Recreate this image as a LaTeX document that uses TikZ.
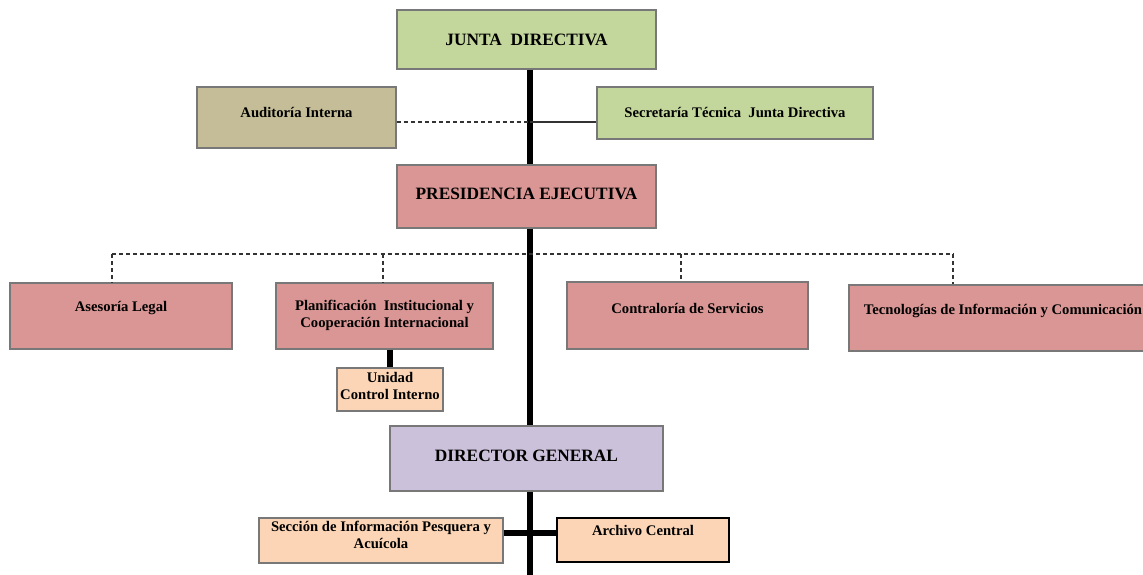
\documentclass[tikz,border=0pt]{standalone}
\usepackage{fontspec}
\setmainfont{Liberation Serif}
\usetikzlibrary{shadows}
\definecolor{cgreen}{RGB}{195,214,155}
\definecolor{ctan}{RGB}{196,189,151}
\definecolor{cpink}{RGB}{217,150,148}
\definecolor{cpeach}{RGB}{251,213,181}
\definecolor{clav}{RGB}{204,193,218}
\definecolor{cborder}{RGB}{120,120,120}
\begin{document}
\begin{tikzpicture}[x=0.75pt,y=-0.75pt,
  box/.style={rectangle, draw=cborder, line width=0.9pt, inner sep=0pt,
    drop shadow={shadow xshift=0.8pt, shadow yshift=-0.8pt, fill=black!45, opacity=1}},
  sz/.style 2 args={minimum width=#1*0.75pt, minimum height=#2*0.75pt},
  title/.style={inner sep=0pt, font=\fontsize{13}{15}\selectfont\bfseries, align=center},
  small/.style={inner sep=0pt, font=\fontsize{11}{12.75}\selectfont\bfseries, align=center},
  trunk/.style={line width=3.8pt, black},
  thinline/.style={line width=0.8pt, black!80},
  dashline/.style={line width=0.8pt, black!80, dash pattern=on 3pt off 2.3pt}]
\clip (0,0) rectangle (1143,575);
\fill[white] (0,0) rectangle (1143,575);
\coordinate (tx) at (530,0);
\coordinate (tb) at (530,580);
\coordinate (h1) at (530,122);
\coordinate (h3) at (530,533);
\coordinate (d1) at (112,254);
\coordinate (d2) at (383,254);
\coordinate (d3) at (681,254);
\coordinate (d4) at (953,254);

% boxes
\node[box, fill=cgreen, sz={259}{59}] (jd) at (526.5,39.5) {};
\node[box, fill=ctan, sz={199}{61}] (ai) at (296.5,117.5) {};
\node[box, fill=cgreen, sz={276}{52}] (st) at (735,113) {};
\node[box, fill=cpink, sz={259}{63}] (pe) at (526.5,196.5) {};
\node[box, fill=cpink, sz={222}{66}] (al) at (121,316) {};
\node[box, fill=cpink, sz={217}{66}] (pl) at (384.5,316) {};
\node[box, fill=cpink, sz={241}{67}] (cs) at (687.5,315.5) {};
\node[box, fill=cpink, sz={308}{66}] (ti) at (1003,318) {};
\node[box, fill=cpeach, sz={106}{43}] (uc) at (390,389.5) {};
\node[box, fill=clav, sz={273}{65}] (dg) at (526.5,458.5) {};
\node[box, fill=cpeach, sz={244}{45}] (si) at (381,540.5) {};
\node[box, fill=cpeach, sz={172}{44}, draw=black, line width=1.5pt] (ac) at (643,540) {};

% connectors
\draw[trunk] (jd.south -| tx) -- (pe.north -| tx);
\draw[trunk] (pe.south -| tx) -- (dg.north -| tx);
\draw[trunk] (dg.south -| tx) -- (tb);
\draw[dashline] (ai.east |- h1) -- (h1);
\draw[thinline] (h1) -- (st.west |- h1);
\draw[dashline] (d1) -- (d4);
\draw[dashline] (d1) -- (d1 |- al.north);
\draw[dashline] (d2) -- (d2 |- pl.north);
\draw[dashline] (d3) -- (d3 |- cs.north);
\draw[dashline] (d4) -- (d4 |- ti.north);
\draw[trunk] (uc.north |- pl.south) -- (uc.north);
\draw[trunk] (si.east |- h3) -- (ac.west |- h3);

% texts
\node[title] (jdt) at (526.5,40) {JUNTA\ \ DIRECTIVA};
\node[small] (ait) at (296.5,112) {Auditoría Interna};
\node[small] (stt) at (735,112) {Secretaría\ Técnica\ \ Junta Directiva};
\node[title] (pet) at (526.5,194) {PRESIDENCIA EJECUTIVA};
\node[small] (alt) at (121,308) {Asesoría Legal};
\node[small] (plt) at (384.5,315.5) {Planificación\ \ Institucional y\\Cooperación Internacional};
\node[small] (cst) at (687.5,308) {Contraloría de Servicios};
\node[small] (tit) at (1003,311) {Tecnologías de Información y Comunicación};
\node[small] (uct) at (390,386) {Unidad\\Control Interno};
\node[title] (dgt) at (526.5,456) {DIRECTOR GENERAL};
\node[small] (sit) at (381,535) {Sección de Información Pesquera y\\Acuícola};
\node[small] (act) at (643,530) {Archivo Central};
\end{tikzpicture}
\end{document}
